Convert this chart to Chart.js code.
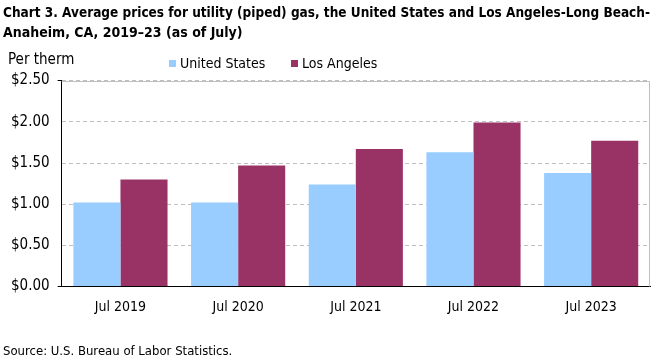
<!DOCTYPE html>
<html>
<head>
<meta charset="utf-8">
<script src="https://cdn.jsdelivr.net/npm/chart.js@4/dist/chart.umd.min.js"></script>
<style>
  body { margin: 0; background: #fff; }
  #wrap { width: 661px; height: 361px; position: relative; }
</style>
</head>
<body>
<div id="wrap"><canvas id="chart"></canvas></div>
<script>
// Data
const categories = ['Jul 2019', 'Jul 2020', 'Jul 2021', 'Jul 2022', 'Jul 2023'];
const usPrices = [1.02, 1.02, 1.24, 1.63, 1.38];
const laPrices = [1.30, 1.47, 1.67, 1.99, 1.77];
const yTicks = [0, 0.5, 1.0, 1.5, 2.0, 2.5];

const FONT = "'Liberation Sans Narrow', 'DejaVu Sans Condensed', sans-serif";

// "Per therm", legend row and the grey frame on top/right of the plot
const extras = {
    id: 'extras',
    afterDraw(chart) {
        const ctx = chart.ctx;
        const area = chart.chartArea;
        ctx.save();
        ctx.font = '15px ' + FONT;
        ctx.fillStyle = '#000';
        ctx.textBaseline = 'middle';
        ctx.fillText('Per therm', 8, 60);

        // legend, built from the datasets
        const legendX = [169, 291];
        ctx.font = '14px ' + FONT;
        chart.data.datasets.forEach((ds, i) => {
            ctx.fillStyle = ds.backgroundColor;
            ctx.fillRect(legendX[i], 60, 7, 7);
            ctx.fillStyle = '#000';
            ctx.fillText(ds.label, legendX[i] + 11, 64);
        });

        // grey frame top and right
        ctx.strokeStyle = '#bfbfbf';
        ctx.lineWidth = 1;
        ctx.setLineDash([]);
        ctx.beginPath();
        ctx.moveTo(area.left, Math.round(area.top) + 0.5);
        ctx.lineTo(Math.round(area.right) - 0.5, Math.round(area.top) + 0.5);
        ctx.lineTo(Math.round(area.right) - 0.5, area.bottom);
        ctx.stroke();
        ctx.restore();
    }
};

new Chart(document.getElementById('chart'), {
    type: 'bar',
    data: {
        labels: categories,
        datasets: [{
            label: 'United States',
            data: usPrices,
            backgroundColor: '#99ccff'
        }, {
            label: 'Los Angeles',
            data: laPrices,
            backgroundColor: '#993366'
        }]
    },
    options: {
        responsive: true,
        maintainAspectRatio: false,
        animation: false,
        categoryPercentage: 0.8,
        barPercentage: 1.0,
        layout: { padding: { left: 3, right: 11, top: 0, bottom: 0 } },
        plugins: {
            title: {
                display: true,
                align: 'start',
                text: ['Chart 3. Average prices for utility (piped) gas, the United States and Los Angeles-Long Beach-',
                       'Anaheim, CA, 2019\u201323 (as of July)'],
                color: '#000',
                font: { family: FONT, size: 14, weight: 'bold', lineHeight: 1.45 },
                padding: { top: 3, bottom: 37 }
            },
            subtitle: {
                display: true,
                position: 'bottom',
                align: 'start',
                text: 'Source: U.S. Bureau of Labor Statistics.',
                color: '#000',
                font: { family: FONT, size: 13 },
                padding: { top: 16, bottom: 2 }
            },
            legend: { display: false },
            tooltip: { enabled: false }
        },
        scales: {
            x: {
                grid: { display: false, drawTicks: false },
                border: { color: '#000', width: 1 },
                ticks: { color: '#000', font: { family: FONT, size: 14 }, padding: 12 }
            },
            y: {
                min: 0,
                max: 2.5,
                afterBuildTicks(axis) {
                    axis.ticks = yTicks.map(v => ({ value: v }));
                },
                grid: {
                    color: '#bfbfbf',
                    tickColor: c => (c.tick && (c.tick.value === 0 || c.tick.value === 2.5)) ? '#000' : 'rgba(0,0,0,0)',
                    tickLength: 4
                },
                border: { color: '#000', width: 1, dash: [4, 3] },
                ticks: {
                    color: '#000',
                    font: { family: FONT, size: 15 },
                    padding: 8,
                    callback: v => '$' + Number(v).toFixed(2)
                }
            }
        }
    },
    plugins: [extras]
});
</script>
</body>
</html>
